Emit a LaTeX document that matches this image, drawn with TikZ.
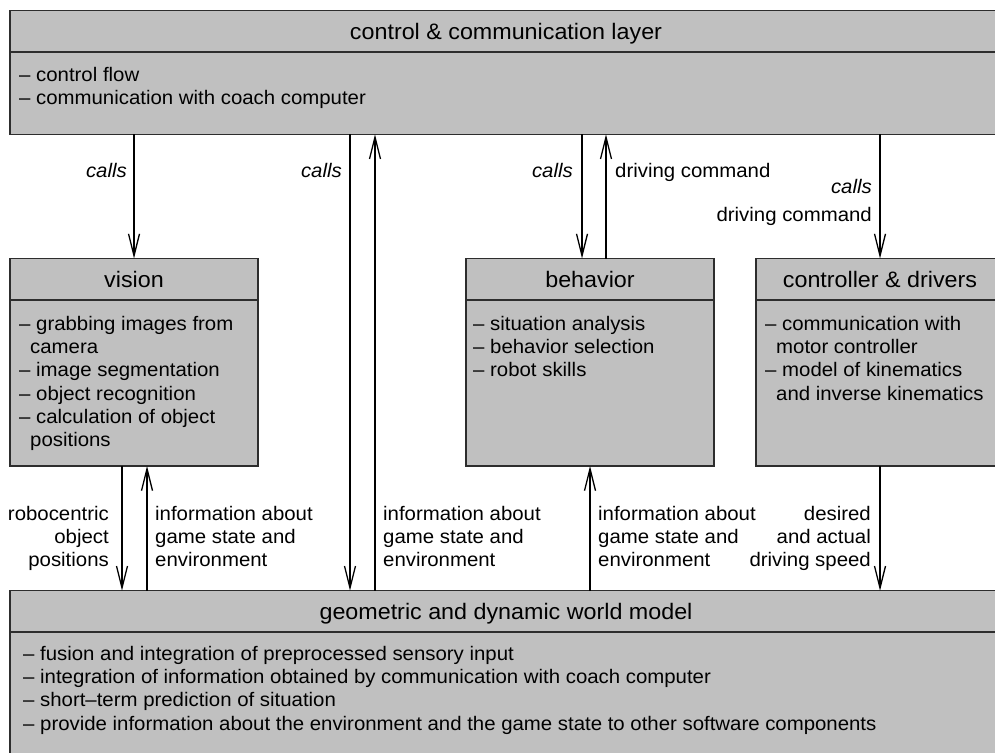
\documentclass[tikz,border=0pt]{standalone}
\usepackage{fontspec}
\setmainfont{Liberation Sans}[FakeStretch=1.04]
\usetikzlibrary{arrows.meta}
\definecolor{boxgray}{RGB}{192,192,192}
\definecolor{edgegray}{RGB}{45,45,45}
\begin{document}
\begin{tikzpicture}[x=1pt,y=-1pt,
  box/.style={draw=edgegray,line width=1.5pt,fill=boxgray,minimum width=248pt,minimum height=207.5pt,anchor=north west,inner sep=0pt,outer sep=0pt},
  sep/.style={draw=edgegray,line width=1.5pt},
  hdr/.style={font=\fontsize{22.4}{27}\selectfont,inner sep=0pt,anchor=base},
  body/.style={font=\fontsize{19.6}{23.3}\selectfont,inner sep=0pt,anchor=north west,align=left},
  lbl/.style={font=\fontsize{19.6}{23.3}\selectfont,inner sep=0pt},
  ilbl/.style={font=\fontsize{19.6}{23.3}\selectfont\itshape,inner sep=0pt},
  conn/.style={line width=1.3pt,-{Straight Barb[length=22pt,width=11pt]}},
]
\path[use as bounding box] (0,0) rectangle (995,752);
\clip (0,0) rectangle (995,752);

% boxes
\node[box,minimum width=992pt,minimum height=123.6pt] (ctrl) at (10,10.7) {};
\node[box] (vis) at (10,258.5) {};
\node[box] (beh) at (466,258.5) {};
\node[box] (drv) at (756,258.5) {};
\node[box,minimum width=992pt,minimum height=250pt] (wm) at (10,590.7) {};

\foreach \n in {ctrl,vis,beh,drv,wm}
  \draw[sep] ([yshift=-41.3pt]\n.north west) -- ([yshift=-41.3pt]\n.north east);

% headers
\node[hdr] (ctrlh) at ([yshift=-29.3pt]ctrl.north) {control \& communication layer};
\node[hdr] (vish) at ([yshift=-29.3pt]vis.north) {vision};
\node[hdr] (behh) at ([yshift=-29.3pt]beh.north) {behavior};
\node[hdr] (drvh) at ([yshift=-29.3pt]drv.north) {controller \& drivers};
\node[hdr] (wmh) at ([yshift=-29pt]wm.north) {geometric and dynamic world model};

% bodies
\node[body] (ctrlb) at (19,64.7) {\strut– control flow\\– communication with coach computer};
\node[body] (visb) at (19,313.7) {\strut– grabbing images from\\\hspace*{11pt}camera\\– image segmentation\\– object recognition\\– calculation of object\\\hspace*{11pt}positions};
\node[body] (behb) at (473,313.7) {\strut– situation analysis\\– behavior selection\\– robot skills};
\node[body] (drvb) at (765,313.7) {\strut– communication with\\\hspace*{11pt}motor controller\\– model of kinematics\\\hspace*{11pt}and inverse kinematics};
\node[body] (wmb) at (23,643.7) {\strut– fusion and integration of preprocessed sensory input\\– integration of information obtained by communication with coach computer\\– short–term prediction of situation\\– provide information about the environment and the game state to other software components};

% connector x positions
\coordinate (xa) at (350,0);
\coordinate (xb) at (375,0);
\coordinate (xc) at (582,0);
\coordinate (xd) at (606,0);
\coordinate (xe) at (122,0);
\coordinate (xf) at (147,0);

% connectors
\draw[conn] (ctrl.south -| vis.north) -- (vis.north);
\draw[conn] (ctrl.south -| xa) -- (wm.north -| xa);
\draw[conn] (wm.north -| xb) -- (ctrl.south -| xb);
\draw[conn] (ctrl.south -| xc) -- (beh.north -| xc);
\draw[conn] (beh.north -| xd) -- (ctrl.south -| xd);
\draw[conn] (ctrl.south -| drv.north) -- (drv.north);
\draw[conn] (vis.south -| xe) -- (wm.north -| xe);
\draw[conn] (wm.north -| xf) -- (vis.south -| xf);
\draw[conn] (wm.north -| beh.south) -- (beh.south);
\draw[conn] (drv.south) -- (wm.north -| drv.south);

% labels
\node[ilbl,anchor=base east] (l1) at (127,177) {calls};
\node[ilbl,anchor=base east] (l2) at (342,177) {calls};
\node[ilbl,anchor=base east] (l3) at (573,177) {calls};
\node[lbl,anchor=base west] (l4) at (615,177) {driving command};
\node[ilbl,anchor=base east] (l5) at (872,193) {calls};
\node[lbl,anchor=base east] (l6) at (872,221) {driving command};

\node[lbl,anchor=north east,align=right] (l7) at (109,503.7) {\strut robocentric\\object\\positions};
\node[lbl,anchor=north west,align=left] (l8) at (155,503.7) {\strut information about\\game state and\\environment};
\node[lbl,anchor=north west,align=left] (l9) at (383,503.7) {\strut information about\\game state and\\environment};
\node[lbl,anchor=north west,align=left] (l10) at (598,503.7) {\strut information about\\game state and\\environment};
\node[lbl,anchor=north east,align=right] (l11) at (871,503.7) {\strut desired\\and actual\\driving speed};
\end{tikzpicture}
\end{document}
